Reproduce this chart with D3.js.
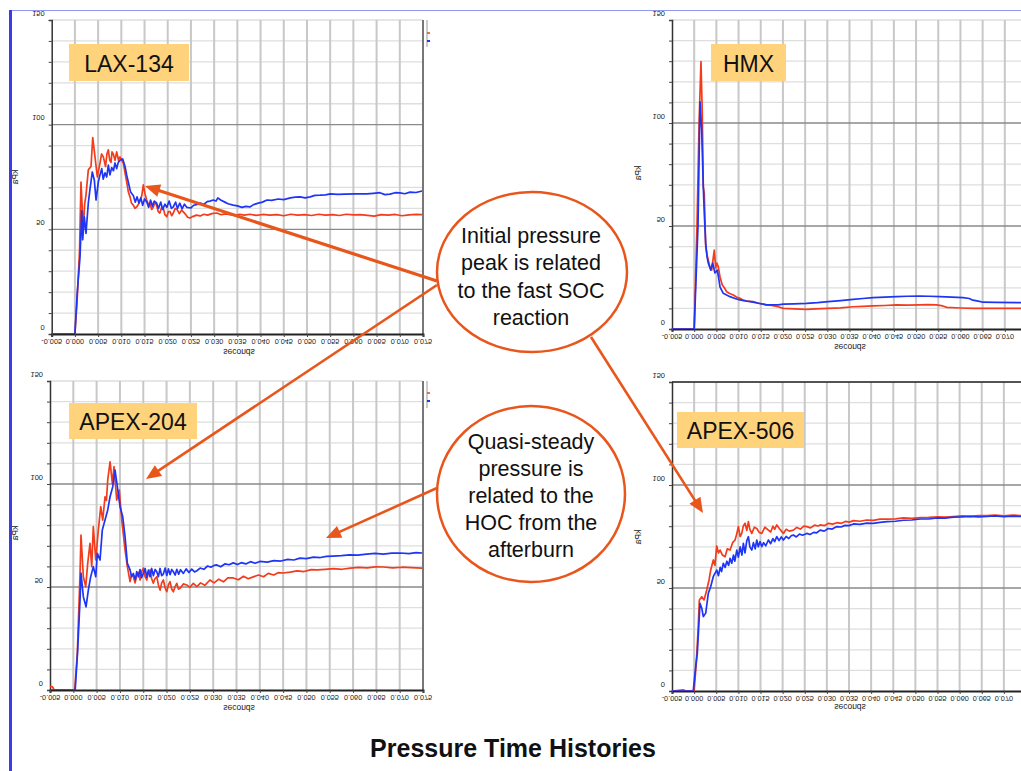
<!DOCTYPE html>
<html><head><meta charset="utf-8">
<script src="https://cdn.jsdelivr.net/npm/d3@7"></script>
<style>body{margin:0;background:#fff;} svg{display:block;}</style>
</head><body>
<svg id="c" width="1021" height="771"></svg>
<script>
// ---------- data (time in ms, pressure in kPa) ----------
const xTickValues = [-5,0,5,10,15,20,25,30,35,40,45,50,55,60,65,70,75];
const xTickLabels = ["-0.005","0.000","0.005","0.010","0.015","0.020","0.025","0.030","0.035","0.040","0.045","0.050","0.055","0.060","0.065","0.070","0.075"];
const yGridValues = [0,10,20,30,40,50,60,70,80,90,100,110,120,130,140,150];
const yMajorValues = [50,100];
const yLabelValues = [0,50,100,150];
const yTickLabels = ["0","50","100","150"];
const panelNames = ["LAX-134","HMX","APEX-204","APEX-506"];
const axisXTitle = "seconds";
const axisYTitle = "kPa";
const calloutPeak = ["Initial pressure","peak is related","to the fast SOC","reaction"];
const calloutSteady = ["Quasi-steady","pressure is","related to the","HOC from the","afterburn"];
const titleText = "Pressure Time Histories";

const lax134Red = [[-5,0],[0,0],[0.45,15],[1.0,40],[1.31,72.6],[1.81,49.7],[2.1,62],[2.39,66.4],[2.89,78.4],[3.47,80],[3.84,93.8],[4.33,84.6],[4.83,75],[5.41,81.7],[5.75,86],[6.12,84.6],[6.6,80],[6.9,86],[7.2,88],[7.5,83],[7.78,82],[8.0,87],[8.27,86],[8.64,83],[9.0,87],[9.4,83],[9.72,84.6],[10.1,83],[10.43,81.7],[10.8,77],[11.16,72.6],[11.5,68],[11.87,65.5],[12.2,62.5],[12.58,61.6],[12.95,60],[13.3,60.7],[13.7,62],[14.03,64],[14.4,66],[14.74,71.2],[15.1,67],[15.47,64],[15.85,62],[16.2,62],[16.55,59.5],[16.9,60.7],[17.25,63],[17.6,61.5],[17.95,58.5],[18.3,57.8],[18.7,60.5],[19.05,60],[19.4,57],[19.8,56],[20.15,58.5],[20.5,58.5],[20.85,56.5],[21.2,57.8],[21.6,60],[22.0,59.5],[22.5,57.5],[23.0,59.2],[23.5,58],[23.9,57],[24.3,55.8],[24.8,55.4],[25.5,56.2],[26.2,56.8],[27.0,56.4],[27.8,57.2],[28.6,56.8],[29.5,57.5],[30.6,57.8],[31.5,57],[32.5,57.4],[33.4,57],[34.5,56.6],[35.5,57.2],[36.5,56.8],[37.7,57.2],[39,56.7],[40.5,57.1],[42,56.8],[43.5,57],[45,56.5],[46.5,57.2],[48,56.8],[49.5,57],[51,56.6],[52.5,57.2],[54,56.8],[55.5,57],[57,56.6],[58.5,57.2],[60,56.9],[61.5,57],[63,56.7],[64.5,56.3],[66,57],[67.5,56.8],[69,57.1],[70.5,56.5],[72,56.9],[73.5,57.1],[74.8,57]];
const lax134Blue = [[-5,0],[0,0],[0.5,19.6],[1.1,36.8],[1.47,59],[1.68,45],[2.03,56],[2.39,48],[2.89,62.6],[3.3,70],[3.75,77.4],[4.18,73.6],[4.55,64],[5.04,72.6],[5.4,76],[5.78,79],[6.1,74],[6.49,77],[6.85,75],[7.2,80.7],[7.55,76],[7.93,79.5],[8.3,78],[8.64,81.7],[9.0,79],[9.35,82],[9.72,83],[10.3,83.6],[10.8,80],[11.15,76],[11.5,72.6],[12.0,67.8],[12.6,66],[13.0,63],[13.4,65.5],[13.8,62.5],[14.2,65],[14.6,61.5],[15.0,64.5],[15.5,63],[15.9,60.5],[16.3,64],[16.7,61],[17.1,63.5],[17.6,62.6],[18.0,60],[18.5,63],[18.9,59.5],[19.4,62],[19.8,60.5],[20.3,63.5],[20.8,60],[21.2,60.7],[21.7,63],[22.1,60],[22.6,62.5],[23.1,59.8],[23.6,62],[24.1,60.5],[25.0,60.2],[25.6,61.5],[26.2,61.8],[27.0,62.6],[27.8,62],[28.5,63.2],[29.1,63.5],[29.8,64],[30.4,63.5],[30.8,65],[31.4,64],[32.3,63],[33.0,62.2],[34.1,61.6],[35.0,61.2],[36.0,60.5],[36.8,61],[37.7,60.7],[38.5,61.8],[39.5,62.5],[40.4,63],[41.4,64],[42.4,63.8],[43.8,64.5],[45.0,64.2],[46.4,65],[47.5,65.4],[48.5,65.5],[49.6,65],[50.7,65.5],[51.7,66.2],[52.8,66.3],[54.0,66.5],[55.0,66.9],[56.6,66.7],[58.2,66.8],[60.5,66.9],[62.9,66.9],[64.3,67.2],[65.7,67.5],[66.8,66.6],[67.9,66.8],[69.0,67.5],[70.0,67.4],[71.1,67],[72.2,67.8],[73.5,67.6],[74.8,68.3]];

const hmxRed = [[-5,0],[0,0],[0.63,49.7],[1.1,100],[1.53,129.8],[1.82,104.8],[2.05,69],[2.27,66],[2.59,40],[2.9,36],[3.17,33.5],[3.55,30],[3.94,28.6],[4.2,33],[4.53,38.3],[4.84,29.6],[5.1,32],[5.43,30.2],[5.81,25.4],[6.33,21.4],[6.8,20],[7.32,18.1],[8.0,17.2],[8.8,16.5],[9.5,15.5],[10.2,15],[11.06,14],[12.0,13.6],[13.3,13.3],[14.5,12.5],[16.3,11.7],[17.5,11.4],[18.9,10.8],[20.1,10],[22.5,9.8],[25.3,9.5],[27.5,9.8],[30.2,10],[33,10.3],[35.8,10.8],[38,11],[40.3,11.2],[43,11.4],[45.6,11.7],[48,11.6],[50.8,11.7],[52.5,11.8],[54.6,11.7],[56.0,11.2],[56.9,10.5],[60,10.2],[63,10],[65.9,10],[70,10],[73.4,10],[76,10]];
const hmxBlue = [[-5,0],[0,0],[0.86,50],[1.31,110.3],[1.69,96.6],[2.05,69],[2.3,55],[2.59,41.7],[2.9,35],[3.17,32],[3.72,28.6],[4.17,32],[4.68,27.2],[5.2,28.6],[5.5,25],[5.81,20.5],[6.55,17.3],[7.3,16.5],[8.06,15.7],[9.2,14.8],[10.3,14.1],[11.5,13.6],[12.6,13.3],[14.5,12.5],[16.3,11.7],[18.9,11.7],[20.1,12.1],[22.5,12.2],[25.3,12.4],[27.8,12.8],[30.2,13.3],[33,13.8],[35.8,14.4],[38,14.8],[40.3,15.2],[43,15.5],[45.6,15.7],[48,15.9],[50.8,16],[53,15.9],[55.4,15.7],[58,15.5],[60.6,15.2],[62.0,14.8],[62.8,14],[64,13.5],[65.1,13],[68,12.9],[73.4,12.8],[76,12.8]];

const apex204Red = [[-5,1.6],[-4.5,1.6],[-4.1,0],[0.3,0],[0.86,17.8],[1.44,56.6],[1.65,75.2],[2.15,55],[2.66,50.1],[3.09,61.5],[3.58,71.2],[3.95,59.9],[4.29,79.3],[4.81,63.1],[5.37,77.7],[5.88,89],[6.31,82.5],[6.8,93.8],[7.1,92],[7.38,101.9],[7.88,110.8],[8.37,100.3],[8.73,108.4],[9.31,92.2],[9.87,97],[10.39,82.5],[11.1,68],[11.59,59.9],[12.17,52.6],[12.5,56],[12.88,55],[13.25,52],[13.61,55.8],[14.0,57],[14.31,53.4],[14.65,57.5],[15.02,59.2],[15.4,55],[15.75,53.4],[16.1,57],[16.46,58.3],[16.8,54],[17.17,51.9],[17.5,54],[17.9,55],[18.25,51],[18.61,48.5],[18.95,52],[19.31,53.4],[19.7,49.5],[20.04,47.7],[20.4,51],[20.75,52.6],[21.1,49],[21.46,47.7],[21.8,50],[22.19,51.8],[22.55,49],[22.9,49.4],[23.6,51.5],[24.34,51],[25.0,49.8],[25.75,51.8],[26.5,50.2],[27.3,52],[28.2,50.8],[29.3,53.4],[30.2,52],[31.2,53.8],[32.2,52.5],[33.2,54.5],[34.3,54.4],[35.4,53.5],[36.5,55.2],[37.5,54],[38.6,54.9],[39.7,55.8],[40.8,55],[41.8,56.6],[43,55.8],[44,57],[45,56.8],[46.5,57.2],[48,57.8],[49.5,57.5],[51,58.4],[52.3,58.3],[54,58.6],[55.8,58.9],[57.6,58.6],[59.4,59.2],[61.2,59.5],[63,59.3],[64.8,59.8],[66.5,59.7],[68.5,59.3],[70.5,59.6],[72.5,59.4],[74.8,59.2]];
const apex204Blue = [[-5,0],[0.4,0],[0.94,19.4],[1.44,43.7],[1.65,56.8],[2.15,45.3],[2.73,40.4],[3.22,48.5],[3.73,55],[4.29,59.9],[4.81,55],[5.15,66.3],[5.73,63.1],[6.22,77.7],[6.8,82.5],[7.38,87.4],[7.88,93.8],[8.46,98.7],[8.95,106.8],[9.44,98.7],[10.02,89],[10.6,84.1],[11.1,74.4],[11.59,61.5],[12.17,58.3],[12.5,55],[12.88,56.6],[13.3,53.5],[13.6,57.5],[13.95,55],[14.3,58.5],[14.65,54.5],[15.02,56.6],[15.4,59],[15.75,54.8],[16.1,58.2],[16.46,55],[16.8,59],[17.17,55.5],[17.55,58.5],[17.9,57.4],[18.25,55],[18.6,59],[18.95,55.5],[19.31,56.3],[19.7,59.2],[20.05,55.6],[20.4,58.8],[20.75,56],[21.1,58.5],[21.46,57.4],[21.85,55.8],[22.2,58.6],[22.6,56.2],[23.0,58.4],[23.6,56.6],[24.2,58.8],[24.8,57],[25.4,58.7],[26.0,57.3],[26.5,57.9],[27.2,59.2],[28.0,58.6],[28.8,60.2],[29.5,59.6],[30.2,60.5],[30.8,60.7],[31.6,59.8],[32.5,61.2],[33.4,60.8],[34.3,61.7],[35.2,60.9],[36,61.8],[37,61.2],[38,62.3],[39,61.5],[40,62.4],[41.6,62.1],[43,62.8],[44.5,62.6],[46,63.4],[47.3,63.1],[48.6,64],[50,63.8],[51.5,64.5],[53,64.3],[54.3,64.9],[55.7,65],[57.5,65.2],[59.3,65.6],[61,65.5],[62.9,66],[64.7,66.3],[66.5,66],[68.3,66.4],[70.1,66.5],[72,66.2],[73.5,66.7],[74.8,66.5]];

const apex506Red = [[-5,0],[-2.5,0.6],[-1.8,0],[0,0],[0.5,14],[0.9,30],[1.18,44.2],[1.72,45.8],[2.24,44.2],[2.85,49],[3.37,53.9],[3.75,58.7],[4.34,63.6],[4.7,61],[5.11,70.4],[5.5,67],[5.86,68.4],[6.4,66],[6.99,65.2],[7.5,69],[8.12,68.4],[8.7,72],[9.25,73.3],[9.6,76],[10.0,79.8],[10.4,75],[10.77,76.5],[11.1,80],[11.51,81.4],[11.9,78],[12.26,82.2],[12.6,78.5],[13.03,76.5],[13.6,79.5],[14.16,78.9],[14.7,77],[15.29,76.5],[16.0,79.5],[16.78,78.1],[17.3,77.2],[17.8,80],[18.2,78.5],[18.68,80.6],[19.3,78.8],[19.8,77.5],[20.18,76.5],[20.8,78.5],[21.5,77.6],[22.44,78.1],[23.2,79.4],[24,78.6],[24.8,80],[25.47,79.8],[26.3,79.2],[27.2,80.5],[28.0,80.1],[28.48,80.6],[29.5,80.3],[30.4,81.4],[31.3,81],[32.26,81.7],[33.3,81.4],[34.2,82.3],[35.1,82],[36.0,82.7],[37.5,82.4],[39,83],[40.5,82.8],[42,83.4],[43.6,83.4],[45.5,83.6],[47.3,84],[49.2,83.8],[51.1,84.2],[53,84.3],[55,84.6],[56.7,84.4],[58.6,84.7],[60.5,85],[62.4,84.8],[64.3,85.2],[66.2,85.2],[68,85.4],[70,85],[72,85.4],[73.7,85.2],[76,85.2]];
const apex506Blue = [[-5,0],[-0.2,0],[0.43,13.4],[0.72,18.3],[1.33,42.6],[1.72,40.2],[2.08,36.1],[2.62,37.8],[3.21,47.5],[3.75,50.7],[4.34,55.6],[5.11,58.7],[5.5,56],[5.9,60],[6.2,58],[6.6,62],[7.0,60],[7.4,63],[7.8,61],[8.12,64.4],[8.5,62],[8.9,66],[9.2,63],[9.64,68.4],[10.0,65],[10.4,70],[10.8,66],[11.13,71.7],[11.5,67],[11.9,73],[12.26,74.9],[12.6,70],[13.03,68.4],[13.4,72],[13.8,69],[14.16,73.3],[14.5,70],[14.9,72.5],[15.29,70.1],[15.7,72],[16.2,70.5],[16.78,73.3],[17.3,71.5],[17.8,74],[18.2,72.5],[18.68,74.9],[19.2,73],[19.7,74.8],[20.18,73.3],[20.8,75],[21.4,74],[22.0,75.5],[22.44,75.7],[23.1,74.8],[23.8,76.2],[24.5,75.6],[25.47,76.5],[26.2,76],[27,77],[27.7,76.8],[28.48,78.1],[29.4,77.6],[30.3,78.9],[31.2,78.6],[32.26,79.8],[33.2,79.6],[34.1,80.4],[35,80.3],[36.0,81.1],[37.5,80.9],[39,81.5],[40.5,81.4],[42,81.9],[43.6,82.2],[45.5,82.4],[47.3,82.9],[49.2,83],[51.1,83.5],[53,83.5],[55,84],[56.7,83.9],[58.6,84.4],[60.5,84.5],[62.4,84.8],[64.3,84.5],[66.2,84.7],[68,85],[70,84.6],[72,84.9],[73.7,84.7],[76,84.7]];

// ---------- drawing ----------
const W = 1021;
const svg = d3.select('#c');
const FONT = "'Liberation Sans', Arial, Helvetica, sans-serif";
const RED = '#f23c1c', BLUE = '#1f35f5', ORANGE = '#e8561c';
const defs = svg.append('defs');

function flippedText(g, x, y, txt, size, anchor, rotate) {
  g.append('text')
    .attr('transform', `translate(${x},${y})${rotate ? ' rotate(' + rotate + ')' : ''} scale(1,-1)`)
    .attr('text-anchor', anchor || 'middle')
    .attr('dominant-baseline', 'central')
    .attr('font-family', FONT).attr('font-size', size)
    .attr('fill', '#1a1a1a').text(txt);
}

const panels = [
  {name: panelNames[0], box:{l:51.7,r:423,t:20,b:334}, red:lax134Red, blue:lax134Blue, tag:{x:69,y:44,w:120,h:37}, kpa:[15,177], sec:[239,352], right:true, legY:33},
  {name: panelNames[1], box:{l:672,r:1027,t:20,b:329}, red:hmxRed, blue:hmxBlue, tag:{x:711,y:44,w:75,h:37}, kpa:[638,173], sec:[850,347]},
  {name: panelNames[2], box:{l:50,r:423,t:381,b:690}, red:apex204Red, blue:apex204Blue, tag:{x:69,y:403,w:128,h:36}, kpa:[15,533], sec:[239,708], right:true, legY:393},
  {name: panelNames[3], box:{l:672,r:1026,t:382,b:691}, red:apex506Red, blue:apex506Blue, tag:{x:677,y:412,w:127,h:36}, kpa:[638,537], sec:[850,707], topDark:true}
];

panels.forEach((p, i) => {
  const b = p.box;
  const g = svg.append('g');
  const x = d3.scaleLinear().domain([xTickValues[0], xTickValues[xTickValues.length-1]]).range([b.l, b.r]);
  const y = d3.scaleLinear().domain([yGridValues[0], yGridValues[yGridValues.length-1]]).range([b.b, b.t]);

  // minor horizontal grid
  g.append('g').selectAll('line').data(yGridValues.filter(v => !yMajorValues.includes(v) && v > 0)).join('line')
    .attr('x1', b.l).attr('x2', b.r).attr('y1', d => y(d)).attr('y2', d => y(d))
    .attr('stroke', '#dedede').attr('stroke-width', 1.3);
  // vertical grid
  g.append('g').selectAll('line').data(xTickValues.slice(1)).join('line')
    .attr('x1', d => x(d)).attr('x2', d => x(d)).attr('y1', b.t).attr('y2', b.b)
    .attr('stroke', '#c8c8c8').attr('stroke-width', 2);
  // major horizontal grid
  g.append('g').selectAll('line').data(yMajorValues).join('line')
    .attr('x1', b.l).attr('x2', b.r).attr('y1', d => y(d)).attr('y2', d => y(d))
    .attr('stroke', '#8a8a8a').attr('stroke-width', 1.4);

  if (p.topDark) {
    g.append('line').attr('x1', b.l).attr('x2', b.r).attr('y1', y(150)).attr('y2', y(150)).attr('stroke', '#222').attr('stroke-width', 1.6);
  }
  if (p.right) {
    g.append('line').attr('x1', b.r).attr('x2', b.r).attr('y1', b.t).attr('y2', b.b).attr('stroke', '#777').attr('stroke-width', 2);
    g.append('line').attr('x1', b.r + 4).attr('x2', b.r + 4).attr('y1', b.t).attr('y2', b.t + 27).attr('stroke', '#aaa').attr('stroke-width', 1.2);
    g.append('line').attr('x1', b.r + 4).attr('x2', b.r + 7).attr('y1', p.legY).attr('y2', p.legY).attr('stroke', RED).attr('stroke-width', 1.5);
    g.append('line').attr('x1', b.r + 4).attr('x2', b.r + 7).attr('y1', p.legY + 8).attr('y2', p.legY + 8).attr('stroke', BLUE).attr('stroke-width', 2);
  }

  // axes
  const ax = g.append('g').attr('transform', `translate(${b.l},0)`)
    .call(d3.axisLeft(y).tickValues(yGridValues).tickSize(3).tickFormat(''));
  ax.select('.domain').attr('stroke', '#333').attr('stroke-width', 1.5);
  ax.selectAll('.tick line').attr('stroke', '#444');
  const bx = g.append('g').attr('transform', `translate(0,${b.b})`)
    .call(d3.axisBottom(x).tickValues(xTickValues).tickSize(3).tickFormat(''));
  bx.select('.domain').attr('stroke', '#222').attr('stroke-width', 2);
  bx.selectAll('.tick line').attr('stroke', '#444');

  // tick labels (mirrored, as in the source); skip those falling off the page
  xTickValues.forEach((v, k) => { if (x(v) + 10 < W) flippedText(g, x(v), b.b + 7, xTickLabels[k], 7.3); });
  yLabelValues.forEach((v, k) => flippedText(g, b.l - 7, y(v) - 7, yTickLabels[k], 7.5, 'end'));
  flippedText(g, p.sec[0], p.sec[1], axisXTitle, 8.5);
  flippedText(g, p.kpa[0], p.kpa[1], axisYTitle, 8.5, 'middle', 90);

  // series
  const clipId = 'clip' + i;
  defs.append('clipPath').attr('id', clipId).append('rect')
    .attr('x', b.l).attr('y', b.t - 30).attr('width', b.r - b.l).attr('height', b.b - b.t + 30);
  const line = d3.line().x(d => x(d[0])).y(d => y(d[1]));
  const sg = g.append('g').attr('clip-path', `url(#${clipId})`);
  sg.append('path').datum(p.red).attr('d', line).attr('fill', 'none').attr('stroke', RED).attr('stroke-width', 1.7).attr('stroke-linejoin', 'round');
  sg.append('path').datum(p.blue).attr('d', line).attr('fill', 'none').attr('stroke', BLUE).attr('stroke-width', 1.7).attr('stroke-linejoin', 'round');

  // name tag
  g.append('rect').attr('x', p.tag.x).attr('y', p.tag.y).attr('width', p.tag.w).attr('height', p.tag.h).attr('fill', '#ffd27c');
  g.append('text').attr('x', p.tag.x + p.tag.w / 2).attr('y', p.tag.y + p.tag.h / 2 + 1)
    .attr('text-anchor', 'middle').attr('dominant-baseline', 'central')
    .attr('font-family', FONT).attr('font-size', 23).attr('fill', '#111').text(p.name);
});

// page frame
svg.append('rect').attr('x', 0).attr('y', 0).attr('width', W).attr('height', 10).attr('fill', '#fff');
svg.append('line').attr('x1', 10).attr('x2', W).attr('y1', 10.5).attr('y2', 10.5).attr('stroke', '#9099ee').attr('stroke-width', 1.2);
svg.append('rect').attr('x', 0).attr('y', 10).attr('width', 9).attr('height', 761).attr('fill', '#fff');
svg.append('line').attr('x1', 10.5).attr('x2', 10.5).attr('y1', 10).attr('y2', 771).attr('stroke', '#3c3ce6').attr('stroke-width', 3);

// annotations
const ann = svg.append('g');
function arrow(x1, y1, x2, y2, w) {
  const a = Math.atan2(y2 - y1, x2 - x1), L = 15, HW = 6.5;
  ann.append('line').attr('x1', x1).attr('y1', y1)
    .attr('x2', x2 - Math.cos(a) * L * 0.7).attr('y2', y2 - Math.sin(a) * L * 0.7)
    .attr('stroke', ORANGE).attr('stroke-width', w || 3);
  const pts = [[x2, y2],
    [x2 - L * Math.cos(a) + HW * Math.sin(a), y2 - L * Math.sin(a) - HW * Math.cos(a)],
    [x2 - L * Math.cos(a) - HW * Math.sin(a), y2 - L * Math.sin(a) + HW * Math.cos(a)]];
  ann.append('polygon').attr('points', pts.map(q => q.join(',')).join(' ')).attr('fill', ORANGE);
}
arrow(437, 281, 145, 186, 3.2);
arrow(437, 285, 146, 479, 2.6);
arrow(591, 337, 703, 513, 2.6);
arrow(437, 488, 326, 538, 2.6);

ann.append('ellipse').attr('cx', 532).attr('cy', 272).attr('rx', 95).attr('ry', 80)
  .attr('fill', '#fff').attr('stroke', ORANGE).attr('stroke-width', 2.5);
ann.append('ellipse').attr('cx', 531).attr('cy', 494).attr('rx', 94).attr('ry', 88)
  .attr('fill', '#fff').attr('stroke', ORANGE).attr('stroke-width', 2.5);

ann.append('g').selectAll('text').data(calloutPeak).join('text')
  .attr('x', 531).attr('y', (d, k) => 236 + k * 27.3)
  .attr('text-anchor', 'middle').attr('dominant-baseline', 'central')
  .attr('font-family', FONT).attr('font-size', 21.5).attr('fill', '#111').text(d => d);
ann.append('g').selectAll('text').data(calloutSteady).join('text')
  .attr('x', 531).attr('y', (d, k) => 442 + k * 27)
  .attr('text-anchor', 'middle').attr('dominant-baseline', 'central')
  .attr('font-family', FONT).attr('font-size', 21.5).attr('fill', '#111').text(d => d);

svg.append('text').attr('x', 513).attr('y', 757).attr('text-anchor', 'middle')
  .attr('font-family', FONT).attr('font-weight', 'bold').attr('font-size', 25).attr('fill', '#111').text(titleText);
</script>
</body></html>
